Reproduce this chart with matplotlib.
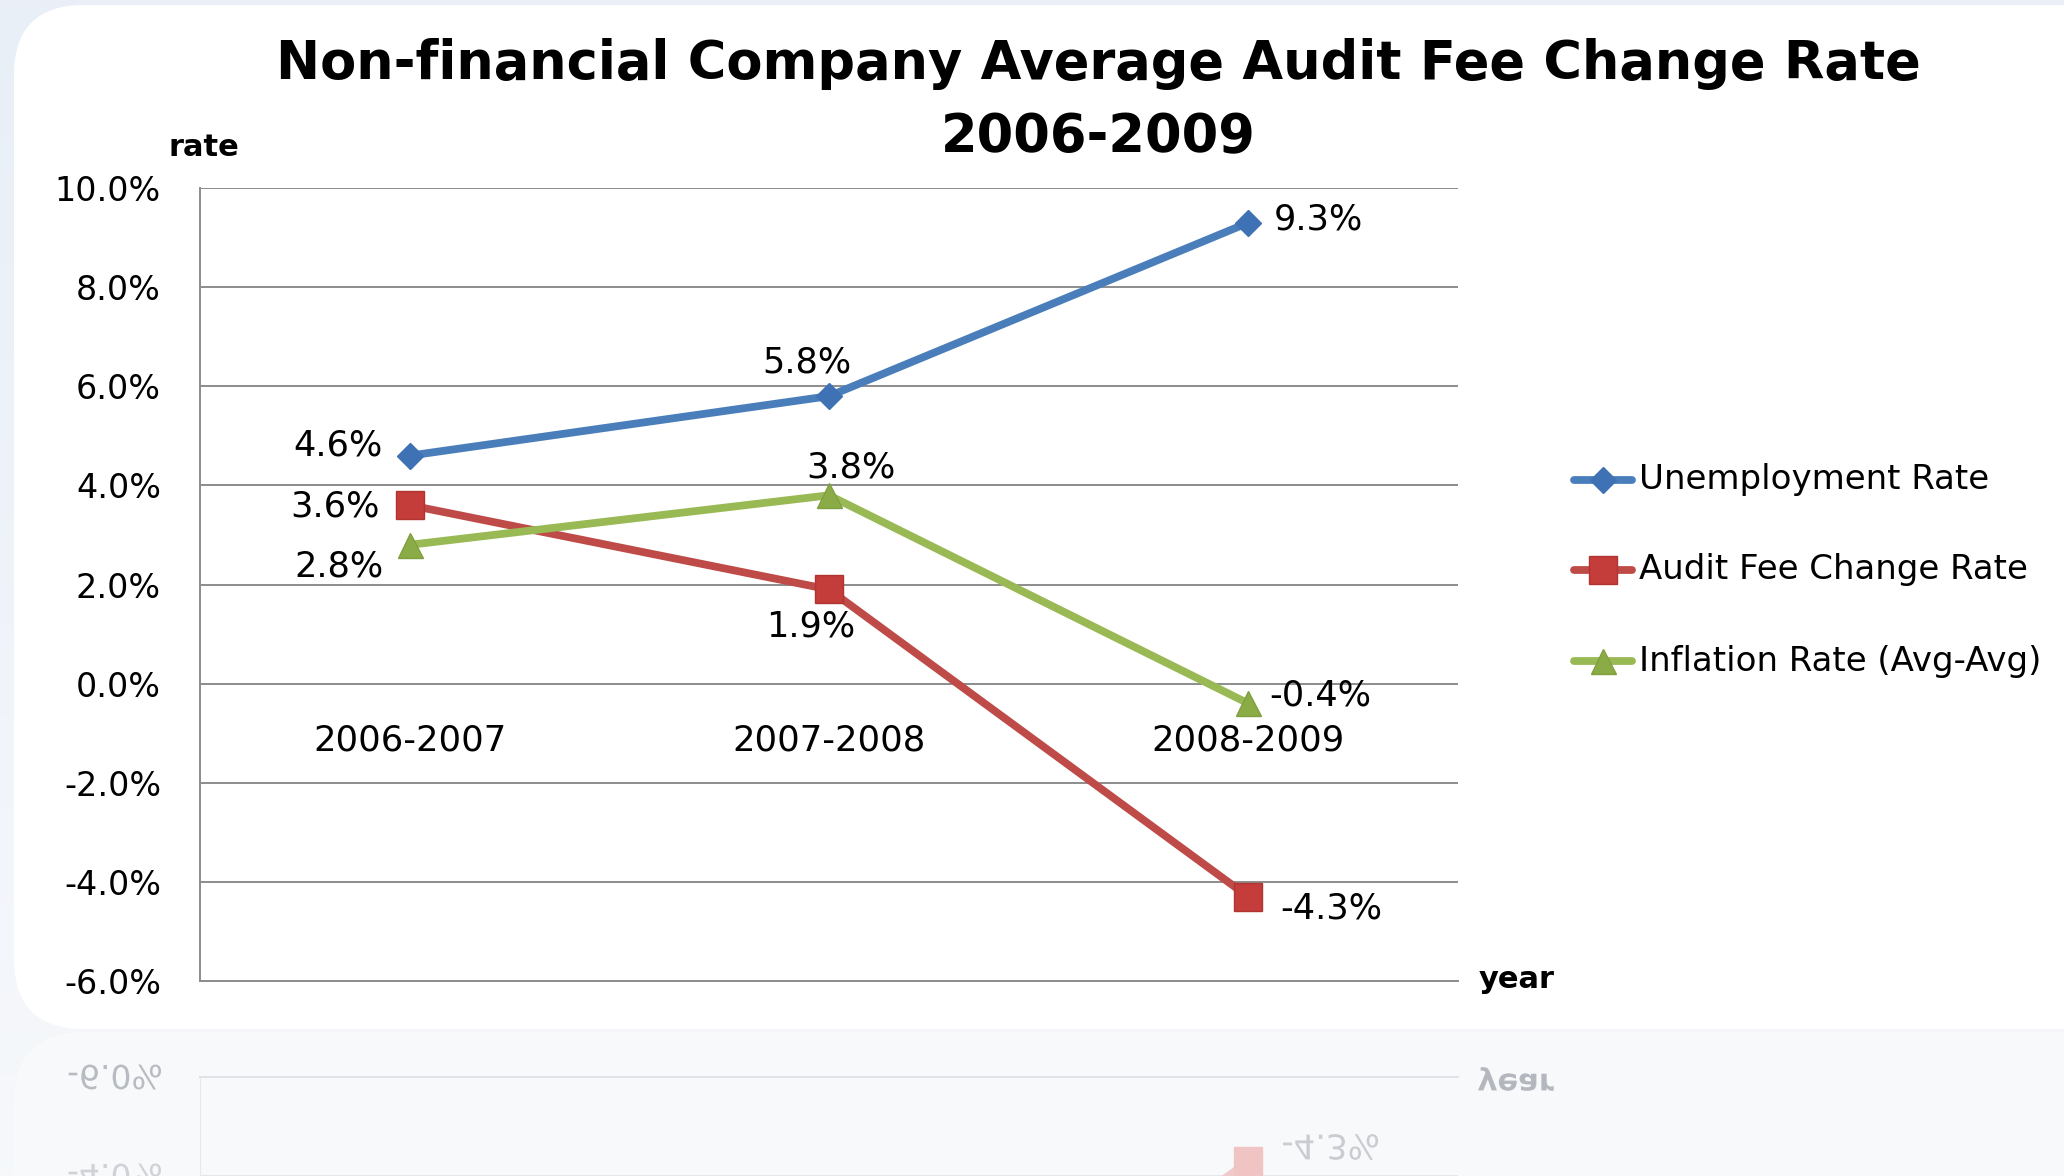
import matplotlib
matplotlib.use("Agg")
import matplotlib.pyplot as plt
import numpy as np
from matplotlib.patches import FancyBboxPatch, PathPatch
from matplotlib.textpath import TextPath
from matplotlib.font_manager import FontProperties
from matplotlib.transforms import Affine2D, IdentityTransform
from matplotlib.lines import Line2D

# data
periods = ["2006-2007", "2007-2008", "2008-2009"]
unemployment = [4.6, 5.8, 9.3]
audit_fee = [3.6, 1.9, -4.3]
inflation = [2.8, 3.8, -0.4]
series_names = ["Unemployment Rate", "Audit Fee Change Rate", "Inflation Rate (Avg-Avg)"]
y_ticks = [-6, -4, -2, 0, 2, 4, 6, 8, 10]

W, H = 2064, 1176
fig = plt.figure(figsize=(W / 100, H / 100), dpi=100)
fig.patch.set_facecolor("#eaf0f8")

# soft background gradient
bg = fig.add_axes([0, 0, 1, 1], zorder=-10)
grad = np.linspace(0, 1, 256).reshape(-1, 1)
top_c = np.array([0.914, 0.937, 0.969])
bot_c = np.array([0.965, 0.973, 0.984])
img = top_c * (1 - grad[..., None]) + bot_c * grad[..., None]
bg.imshow(img, aspect="auto", extent=[0, 1, 0, 1])
bg.axis("off")

# white card
card = FancyBboxPatch((14, H - 1029), 2120, 1024,
                      boxstyle="round,pad=0,rounding_size=70",
                      transform=IdentityTransform(), facecolor="white",
                      edgecolor="none", zorder=-5)
fig.patches.append(card)
# faint reflection card
refl = FancyBboxPatch((14, -200), 2120, H - 1032 + 200,
                      boxstyle="round,pad=0,rounding_size=70",
                      transform=IdentityTransform(), facecolor="#f8f9fb",
                      edgecolor="none", zorder=-5)
fig.patches.append(refl)

styles = [
    dict(color="#4a7ebb", marker="D", ms=13, mfc="#3f72b5", mec="#3f72b5"),
    dict(color="#be4b48", marker="s", ms=20, mfc="#c43d3a", mec="#b03532"),
    dict(color="#98b954", marker="^", ms=18, mfc="#8aab45", mec="#80a03f"),
]
values = [unemployment, audit_fee, inflation]
x = np.arange(len(periods))
LW = 5.6

ax = fig.add_axes([200 / W, 1 - 981 / H, 1258 / W, 793 / H])
ax.set_facecolor("none")
for vals, st in zip(values, styles):
    ax.plot(x, vals, color=st["color"], lw=LW, marker=st["marker"],
            markersize=st["ms"], markerfacecolor=st["mfc"],
            markeredgecolor=st["mec"], solid_capstyle="round", zorder=3)

ax.set_xlim(-0.5, 2.5)
ax.set_ylim(-6, 10)
ax.set_yticks(y_ticks)
ax.set_yticklabels([f"{t:.1f}%" for t in y_ticks])
ax.set_xticks([])
ax.tick_params(axis="y", length=0, pad=28, labelsize=24)
ax.yaxis.grid(True, color="#8c8c8c", lw=1.4)
ax.set_axisbelow(True)
for s in ["top", "right"]:
    ax.spines[s].set_visible(False)
for s in ["left", "bottom"]:
    ax.spines[s].set_color("#8c8c8c")
    ax.spines[s].set_linewidth(1.4)

for i, p in enumerate(periods):
    ax.text(i, -1.15, p, ha="center", va="center", fontsize=25.5)

# data labels (offsets in pixels)
offsets = [
    [(-72, 10), (-22, 34), (70, 3)],
    [(-75, -1), (-18, -37), (83, -12)],
    [(-71, -22), (22, 28), (72, 8)],
]
for vals, offs in zip(values, offsets):
    for i, (v, o) in enumerate(zip(vals, offs)):
        ax.annotate(f"{v:.1f}%", (i, v), xytext=o, textcoords="offset pixels",
                    ha="center", va="center", fontsize=25.3)

fig.text(1098 / W, 1 - 101 / H,
         "Non-financial Company Average Audit Fee Change Rate\n2006-2009",
         ha="center", va="center", fontsize=37.9, fontweight="bold",
         linespacing=1.52)
fig.text(204 / W, 1 - 147 / H, "rate", ha="center", va="center",
         fontsize=22, fontweight="bold")
fig.text(1517 / W, 1 - 979 / H, "year", ha="center", va="center",
         fontsize=22, fontweight="bold")

# legend
leg_y = [480, 570, 661]
for name, st, ly in zip(series_names, styles, leg_y):
    yy = 1 - ly / H
    fig.add_artist(Line2D([1574 / W, 1632 / W], [yy, yy], transform=fig.transFigure,
                          color=st["color"], lw=LW, solid_capstyle="round"))
    fig.add_artist(Line2D([1603 / W], [yy], transform=fig.transFigure,
                          marker=st["marker"], markersize=st["ms"],
                          markerfacecolor=st["mfc"], markeredgecolor=st["mec"],
                          lw=0))
    fig.text(1639 / W, yy, name, ha="left", va="center", fontsize=24.5)

# reflection below the card (mirror about y=1029)
ax2 = fig.add_axes([200 / W, 1 - 1870 / H, 1258 / W, 793 / H], zorder=-1)
ax2.set_facecolor("none")
ax2.set_xlim(-0.5, 2.5)
ax2.set_ylim(10, -6)
ax2.plot(x, audit_fee, color="#f0caca", lw=LW, marker="s", markersize=20,
         markerfacecolor="#f1c4c4", markeredgecolor="#f1c4c4")
ax2.set_yticks(y_ticks)
ax2.yaxis.grid(True, color="#e3e6ea", lw=1.4)
ax2.set_axisbelow(True)
ax2.tick_params(length=0, labelleft=False, labelbottom=False)
ax2.set_xticks([])
for s in ["bottom", "right"]:
    ax2.spines[s].set_visible(False)
ax2.spines["top"].set_color("#e0e3e7")
ax2.spines["left"].set_color("#e6e8ec")
ax2.spines["top"].set_linewidth(1.4)


def mirror_text(s, xp, yp, size_px, color, bold=False, ha="right"):
    fp = FontProperties(family="DejaVu Sans", weight="bold" if bold else "normal")
    tp = TextPath((0, 0), s, size=size_px, prop=fp)
    bb = tp.get_extents()
    dx = -bb.x1 if ha == "right" else (-bb.x0 if ha == "left" else -(bb.x0 + bb.x1) / 2)
    tr = Affine2D().translate(dx, -(bb.y0 + bb.y1) / 2).scale(1, -1).translate(xp, H - yp)
    fig.patches.append(PathPatch(tp, transform=tr, facecolor=color,
                                 edgecolor="none", zorder=-1))


mirror_text("-6.0%", 161, 1077, 33, "#b8bcc2")
mirror_text("-4.0%", 161, 1176, 33, "#cfd2d6")
mirror_text("year", 1478, 1079, 30.5, "#b4b8be", bold=True, ha="left")
mirror_text("-4.3%", 1283, 1147, 34, "#c9ccd0", ha="left")

fig.savefig("out.png", dpi=100, facecolor=fig.get_facecolor())
